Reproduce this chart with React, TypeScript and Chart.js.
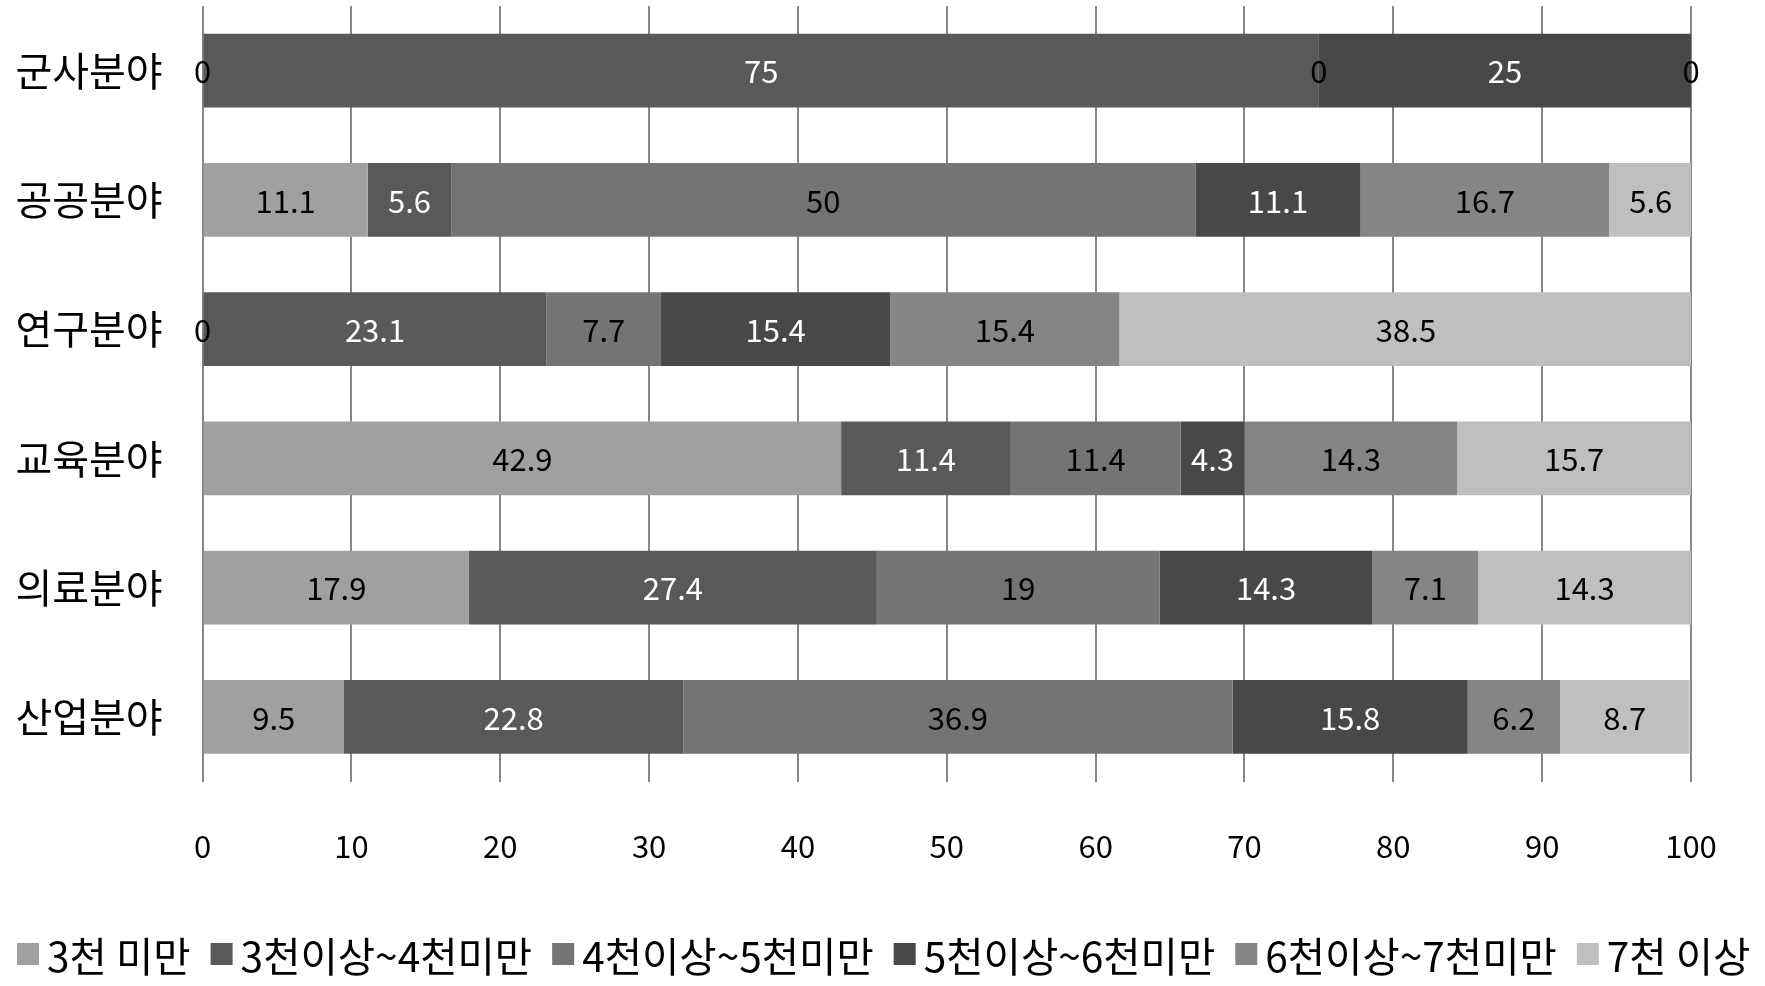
import React, { useEffect, useRef } from "react";
import { Chart, registerables } from "chart.js";

Chart.register(...registerables);

const categories = ["군사분야", "공공분야", "연구분야", "교육분야", "의료분야", "산업분야"];
const seriesNames = ["3천 미만", "3천이상~4천미만", "4천이상~5천미만", "5천이상~6천미만", "6천이상~7천미만", "7천 이상"];
const s1 = [0, 11.1, 0, 42.9, 17.9, 9.5];
const s2 = [75, 5.6, 23.1, 11.4, 27.4, 22.8];
const s3 = [0, 50, 7.7, 11.4, 19, 36.9];
const s4 = [25, 11.1, 15.4, 4.3, 14.3, 15.8];
const s5 = [0, 16.7, 15.4, 14.3, 7.1, 6.2];
const s6 = [0, 5.6, 38.5, 15.7, 14.3, 8.7];
const seriesValues = [s1, s2, s3, s4, s5, s6];
const seriesColors = ["#a0a0a0", "#595959", "#747474", "#484848", "#858585", "#bfbfbf"];
const labelColors = ["#000000", "#ffffff", "#000000", "#ffffff", "#000000", "#000000"];
const FONT = "'Noto Sans CJK KR', 'Noto Sans', sans-serif";

const dataLabelPlugin = {
  id: "dataLabels",
  afterDatasetsDraw(chart: any) {
    const ctx = chart.ctx;
    ctx.save();
    ctx.font = `31px ${FONT}`;
    ctx.textAlign = "center";
    ctx.textBaseline = "middle";
    chart.data.datasets.forEach((ds: any, di: number) => {
      const meta = chart.getDatasetMeta(di);
      meta.data.forEach((bar: any, i: number) => {
        const v = ds.data[i];
        if (di === 5 && i === 0) return;
        const props = bar.getProps(["x", "y", "base"], true);
        const cx = (props.x + props.base) / 2;
        ctx.fillStyle = v === 0 ? "#000000" : labelColors[di];
        ctx.fillText(String(v), cx, props.y + 1);
      });
    });
    ctx.restore();
  },
};

// Bottom legend drawn from the chart's own datasets (Excel-like compact spacing)
const legendPlugin = {
  id: "compactLegend",
  afterDraw(chart: any) {
    const ctx = chart.ctx;
    ctx.save();
    ctx.font = `40.6px ${FONT}`;
    ctx.textAlign = "left";
    ctx.textBaseline = "middle";
    const cy = 957;
    let x = 17;
    chart.data.datasets.forEach((ds: any) => {
      ctx.fillStyle = ds.backgroundColor;
      ctx.fillRect(x, cy - 14, 22, 22);
      x += 22 + 8;
      ctx.fillStyle = "#000000";
      ctx.fillText(ds.label, x, cy);
      x += ctx.measureText(ds.label).width + 20;
    });
    ctx.restore();
  },
};

export default function App() {
  const ref = useRef<HTMLCanvasElement | null>(null);
  useEffect(() => {
    if (!ref.current) return;
    const chart = new Chart(ref.current, {
      type: "bar",
      data: {
        labels: categories,
        datasets: seriesValues.map((vals, i) => ({
          label: seriesNames[i],
          data: vals,
          backgroundColor: seriesColors[i],
          borderWidth: 0,
          categoryPercentage: 1,
          barPercentage: 0.57,
        })),
      },
      options: {
        indexAxis: "y",
        responsive: false,
        animation: false,
        layout: { padding: { top: 6, right: 74, left: 0, bottom: 0 } },
        scales: {
          x: {
            stacked: true,
            min: 0,
            max: 100,
            border: { display: false },
            grid: { color: "#868686", lineWidth: 2, drawTicks: false },
            ticks: {
              stepSize: 10,
              padding: 46,
              color: "#000000",
              font: { family: FONT, size: 31 },
            },
            afterFit(scale: any) {
              scale.height = 204.5;
              scale.paddingTop = 0;
              scale.paddingBottom = 0;
            },
          },
          y: {
            stacked: true,
            border: { display: false },
            grid: { display: false, drawTicks: false },
            ticks: {
              padding: 40,
              color: "#000000",
              font: { family: FONT, size: 40 },
            },
            afterFit(scale: any) {
              scale.width = 202.6;
              scale.paddingTop = 0;
              scale.paddingBottom = 0;
            },
          },
        },
        plugins: {
          legend: { display: false },
          tooltip: { enabled: false },
        },
      },
      plugins: [dataLabelPlugin, legendPlugin],
    } as any);
    return () => chart.destroy();
  }, []);
  return (
    <div style={{ position: "absolute", left: 0, top: 0, width: 1765, height: 986, background: "#ffffff" }}>
      <canvas ref={ref} width={1765} height={986} />
    </div>
  );
}
